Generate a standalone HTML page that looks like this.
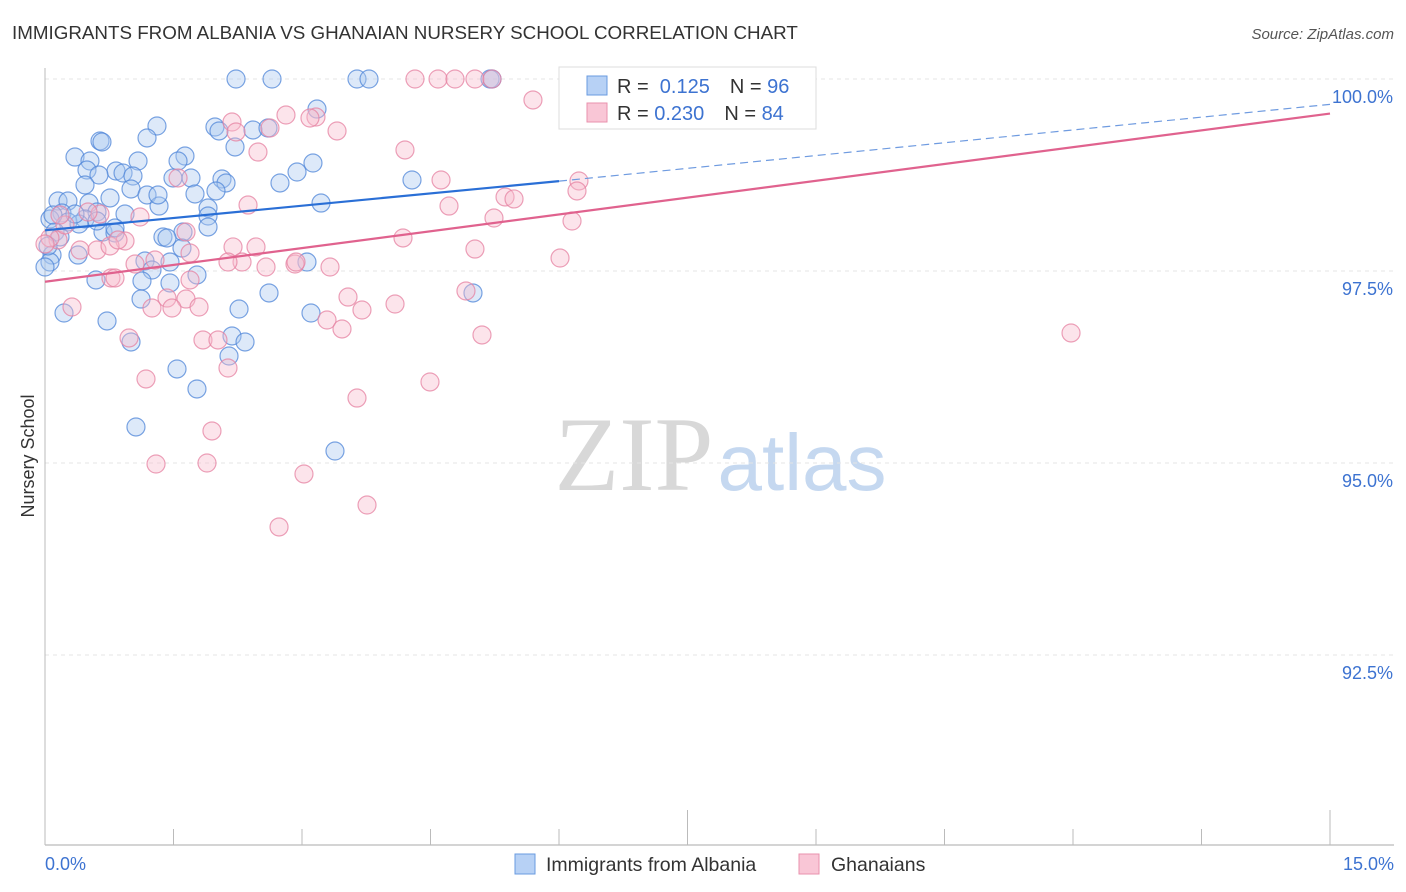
<!DOCTYPE html>
<html><head><meta charset="utf-8"><style>
body{margin:0;background:#fff;font-family:"Liberation Sans",sans-serif;}
#wrap{position:relative;width:1406px;height:892px;overflow:hidden;}
</style></head><body>
<div id="wrap">
<svg id="svg" width="1406" height="892" xmlns="http://www.w3.org/2000/svg">
<text x="12" y="39" font-size="18.8" fill="#333">IMMIGRANTS FROM ALBANIA VS GHANAIAN NURSERY SCHOOL CORRELATION CHART</text>
<text x="1394" y="39" font-size="15" fill="#555" font-style="italic" text-anchor="end">Source: ZipAtlas.com</text>
<text x="34" y="456" font-size="18" fill="#333" text-anchor="middle" transform="rotate(-90 34 456)">Nursery School</text>
<text x="634" y="490" font-size="106" fill="#d8d8d8" font-family="Liberation Serif,serif" text-anchor="middle">ZIP</text>
<text x="802" y="490" font-size="80" fill="#c5d8f0" text-anchor="middle">atlas</text>
<g id="grid"></g><g id="axes"></g><g id="pts"></g><g id="trend"></g>
<g>
<rect x="559" y="67" width="257" height="62" fill="#fff" stroke="#ddd"/>
<rect x="587" y="76" width="20" height="19" fill="#b7d1f5" stroke="#6a9be0"/>
<rect x="587" y="103" width="20" height="19" fill="#f9c6d6" stroke="#e991ad"/>
<text x="617" y="93" font-size="20" fill="#333">R = <tspan fill="#3d73d1">&#160;0.125</tspan><tspan dx="20">N = </tspan><tspan fill="#3d73d1">96</tspan></text>
<text x="617" y="120" font-size="20" fill="#333">R = <tspan fill="#3d73d1">0.230</tspan><tspan dx="20">N = </tspan><tspan fill="#3d73d1">84</tspan></text>
</g>
<g>
<rect x="515" y="854" width="20" height="20" fill="#b7d1f5" stroke="#6a9be0"/>
<text x="546" y="871" font-size="19.5" fill="#333">Immigrants from Albania</text>
<rect x="799" y="854" width="20" height="20" fill="#f9c6d6" stroke="#e991ad"/>
<text x="831" y="871" font-size="19.5" fill="#333">Ghanaians</text>
</g>
</svg>
</div>
<script>
const blueX=[236,272,357,369,490,492,317,157,147,100,102,215,219,253,268,235,75,90,185,138,178,313,297,116,87,99,123,133,191,173,222,226,280,412,85,131,216,195,147,110,58,68,89,321,159,208,62,97,125,208,50,85,68,208,183,79,103,163,167,115,52,78,145,170,152,307,170,197,142,96,239,269,141,311,473,64,107,232,245,131,229,177,197,136,335,50,182,55,115,45,60,53,75,48,97,158].map(p=>+((p-45)*15/1285).toFixed(3));
const blueY=[79,79,79,79,79,79,109,126,138,141,142,127,131,130,128,147,157,161,156,161,161,163,172,171,170,175,173,176,178,178,179,183,183,180,185,189,191,194,195,198,201,201,203,203,206,208,213,212,214,216,219,219,222,227,232,224,232,237,238,233,255,255,261,262,270,262,283,275,281,280,309,293,299,313,293,313,321,336,342,342,356,369,389,427,451,262,248,232,228,267,237,215,214,246,221,195].map(p=>+(100-(p-79)*2.5/192).toFixed(3));
const pinkX=[415,438,455,475,492,637,533,232,236,316,286,310,337,270,258,405,579,577,441,505,514,449,494,572,248,178,140,100,186,233,256,190,125,80,97,475,403,560,135,242,266,295,330,111,115,466,348,395,362,186,167,152,199,327,342,482,1071,129,203,218,228,146,430,357,212,156,207,304,367,279,58,65,72,190,228,172,296,50,88,45,60,155,110,118].map(p=>+((p-45)*15/1285).toFixed(3));
const pinkY=[79,79,79,79,79,79,100,122,132,117,115,118,131,128,152,150,181,191,180,197,199,206,218,221,205,178,217,214,232,247,247,253,241,250,250,249,238,258,264,262,267,264,267,278,278,291,297,304,310,299,298,308,307,320,329,335,333,338,340,340,368,379,382,398,431,464,463,474,505,527,240,225,307,280,262,308,262,238,212,244,215,260,246,240].map(p=>+(100-(p-79)*2.5/192).toFixed(3));
const yTicks=[100,97.5,95,92.5];
const yTickLabels=["100.0%","97.5%","95.0%","92.5%"];
const xTicks=[0,1.5,3,4.5,6,7.5,9,10.5,12,13.5,15];
const blueTrend=[[0,98.03],[6,98.67],[15,99.67]];
const pinkTrend=[[0,97.36],[15,99.55]];

const NS="http://www.w3.org/2000/svg";
const X=v=>45+v/15*1285;
const Y=v=>79+(100-v)/2.5*192;
function mk(tag,at,parent){const e=document.createElementNS(NS,tag);for(const k in at)e.setAttribute(k,at[k]);parent.appendChild(e);return e;}
const grid=document.getElementById('grid'),axes=document.getElementById('axes'),pts=document.getElementById('pts'),trend=document.getElementById('trend');
yTicks.forEach((t,i)=>{
 const l=mk('line',{x1:45,x2:1394,y1:Y(t),y2:Y(t),stroke:'#e4e4e4','stroke-dasharray':'4 4'},grid);
 
 
 const tx=mk('text',{x:1393,y:Y(t)+24,'font-size':18,fill:'#3d73d1','text-anchor':'end'},axes);
 tx.textContent=yTickLabels[i];
 
 
});
const ax=mk('line',{x1:45,x2:1394,y1:845,y2:845,stroke:'#aaa'},axes);


const ay=mk('line',{x1:45,x2:45,y1:68,y2:845,stroke:'#bbb'},axes);


xTicks.forEach((t,i)=>{
 const long=(i==5||i==10);
 const tk=mk('line',{x1:X(t),x2:X(t),y1:long?810:829,y2:845,stroke:'#bbb'},axes);
 
 
});
const xl0=mk('text',{x:45,y:870,'font-size':18,fill:'#3d73d1'},axes);xl0.textContent='0.0%';


const xl1=mk('text',{x:1394,y:870,'font-size':18,fill:'#3d73d1','text-anchor':'end'},axes);xl1.textContent='15.0%';


function dots(xs,ys,fill,stroke,name){
 xs.forEach((x,i)=>{
  const c=mk('circle',{cx:X(x),cy:Y(ys[i]),r:9,fill:fill,'fill-opacity':0.4,stroke:stroke,'stroke-opacity':0.75,'stroke-width':1.2},pts);
  
  
 });
}
dots(blueX,blueY,'#a9c8f0','#4f86d8','point-albania');
dots(pinkX,pinkY,'#f7bccd','#e682a2','point-ghanaians');
const b1=mk('line',{x1:X(blueTrend[0][0]),y1:Y(blueTrend[0][1]),x2:X(blueTrend[1][0]),y2:Y(blueTrend[1][1]),stroke:'#2a6fd6','stroke-width':2.2},trend);


const b2=mk('line',{x1:X(blueTrend[1][0]),y1:Y(blueTrend[1][1]),x2:X(blueTrend[2][0]),y2:Y(blueTrend[2][1]),stroke:'#6f9be0','stroke-width':1.2,'stroke-dasharray':'8 5'},trend);


const p1=mk('line',{x1:X(pinkTrend[0][0]),y1:Y(pinkTrend[0][1]),x2:X(pinkTrend[1][0]),y2:Y(pinkTrend[1][1]),stroke:'#e0628e','stroke-width':2.2},trend);


</script>
</body></html>
